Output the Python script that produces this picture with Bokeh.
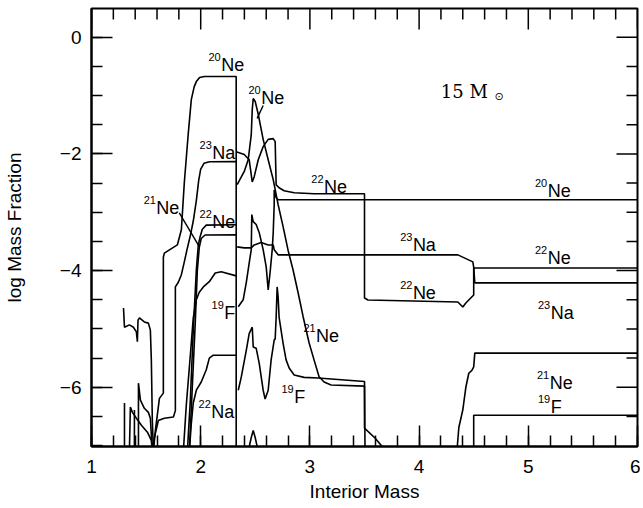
import math
from bokeh.plotting import figure
from bokeh.models import SingleIntervalTicker
from bokeh.core.properties import value
from bokeh.embed import file_html
from bokeh.resources import INLINE

# ---------------- data (interior mass, log mass fraction) ----------------
# left region (inside 2.33 Msun)
ne20_spiky_x = [1.293, 1.302, 1.347, 1.384, 1.411, 1.420, 1.426, 1.439, 1.484, 1.521, 1.539, 1.548, 1.557, 1.567]
ne20_spiky_y = [-4.64, -4.97, -4.93, -4.97, -5.05, -5.22, -4.85, -4.81, -4.88, -4.90, -5.02, -5.53, -6.57, -7.10]

ne20_core_x = [1.567, 1.585, 1.622, 1.658, 1.658, 1.667, 1.786, 1.823, 1.850, 1.887, 1.914, 1.940, 1.960, 1.990, 2.033, 2.325, 2.325]
ne20_core_y = [-7.10, -6.74, -6.19, -6.10, -3.77, -3.70, -3.56, -3.30, -2.49, -1.63, -1.07, -0.85, -0.76, -0.69, -0.672, -0.672, -7.10]

na23_core_x = [1.430, 1.430, 1.448, 1.484, 1.521, 1.539, 1.548, 1.557, 1.576, 1.612, 1.667, 1.750, 1.768, 1.768, 1.795, 1.823, 1.850, 1.877, 1.905, 1.932, 1.960, 1.982, 2.000, 2.030, 2.080, 2.325]
na23_core_y = [-7.10, -5.93, -6.22, -6.36, -6.43, -6.53, -6.82, -7.10, -6.86, -6.57, -6.53, -6.51, -6.40, -4.28, -4.20, -4.07, -3.85, -3.62, -3.40, -3.15, -2.80, -2.45, -2.26, -2.16, -2.135, -2.132]

ne22_core_x = [1.878, 1.905, 1.932, 1.960, 1.978, 1.996, 2.015, 2.051, 2.325]
ne22_core_y = [-7.10, -6.22, -5.02, -3.99, -3.56, -3.41, -3.29, -3.22, -3.215]

ne21_core_x = [1.896, 1.923, 1.950, 1.969, 1.987, 2.005, 2.040, 2.325]
ne21_core_y = [-7.10, -6.00, -4.90, -4.00, -3.60, -3.45, -3.39, -3.387]

f19_core_x = [1.841, 1.868, 1.905, 1.932, 1.960, 1.987, 2.024, 2.079, 2.133, 2.188, 2.325]
f19_core_y = [-7.10, -6.31, -5.45, -4.81, -4.50, -4.37, -4.28, -4.19, -4.04, -4.02, -4.09]

na22_core_x = [1.896, 1.914, 1.932, 1.960, 2.005, 2.051, 2.079, 2.115, 2.325]
na22_core_y = [-7.10, -6.62, -6.27, -6.05, -5.91, -5.70, -5.50, -5.45, -5.45]

spike1_x = [1.302, 1.302]
spike1_y = [-7.10, -6.27]
spike2_x = [1.347, 1.356, 1.375, 1.411, 1.457, 1.512, 1.548, 1.557]
spike2_y = [-7.10, -6.34, -6.43, -6.53, -6.65, -6.77, -6.91, -7.10]
spike3_x = [1.393, 1.393]
spike3_y = [-7.10, -6.39]

# shell region (outside 2.33 Msun)
ne20_shell_x = [2.344, 2.389, 2.417, 2.444, 2.463, 2.468, 2.481, 2.508, 2.536, 2.572, 2.600, 2.618, 2.636, 2.655, 2.664, 2.673, 2.673, 2.691, 2.709, 6.0]
ne20_shell_y = [-4.62, -4.50, -4.21, -3.87, -3.64, -3.04, -3.16, -3.21, -3.35, -3.64, -3.94, -4.33, -4.02, -3.64, -3.35, -2.87, -2.62, -2.75, -2.785, -2.785]

na23_shell_x = [2.334, 2.399, 2.463, 2.490, 2.554, 2.618, 2.664, 2.673, 2.709, 4.355, 4.492, 4.500, 4.510, 6.0]
na23_shell_y = [-3.593, -3.61, -3.61, -3.56, -3.52, -3.56, -3.56, -3.644, -3.73, -3.73, -3.85, -3.94, -4.211, -4.211]

ne22_shell_x = [2.325, 2.399, 2.444, 2.472, 2.490, 2.527, 2.572, 2.618, 2.664, 2.682, 2.691, 2.718, 2.764, 2.856, 3.038, 3.5, 3.5, 3.532, 4.355, 4.400, 4.428, 4.500, 4.500, 6.0]
ne22_shell_y = [-1.961, -2.01, -2.10, -2.48, -2.39, -2.10, -1.875, -1.75, -1.737, -1.789, -2.53, -2.58, -2.63, -2.665, -2.682, -2.682, -4.469, -4.503, -4.538, -4.624, -4.555, -4.417, -3.954, -3.954]

ne21_shell_x = [2.334, 2.399, 2.435, 2.463, 2.472, 2.481, 2.499, 2.527, 2.572, 2.618, 2.664, 2.709, 2.755, 2.800, 2.846, 2.892, 2.938, 2.993, 3.038, 3.084, 3.130, 3.194, 3.5, 3.5, 3.596, 3.70]
ne21_shell_y = [-2.528, -2.30, -2.10, -1.67, -1.24, -1.05, -1.10, -1.32, -1.75, -2.10, -2.44, -2.87, -3.25, -3.65, -3.99, -4.38, -4.79, -5.24, -5.53, -5.82, -5.91, -5.96, -5.98, -6.70, -6.87, -7.10]

f19_shell_x = [2.344, 2.371, 2.417, 2.444, 2.472, 2.481, 2.508, 2.536, 2.572, 2.590, 2.618, 2.645, 2.673, 2.682, 2.691, 2.700, 2.709, 2.718, 2.755, 2.782, 2.810, 2.856, 2.947, 3.075, 3.5, 3.505]
f19_shell_y = [-6.05, -5.83, -5.37, -5.08, -4.97, -5.31, -5.33, -5.59, -6.05, -6.20, -6.05, -5.53, -5.19, -5.17, -4.80, -4.28, -4.45, -4.80, -5.25, -5.53, -5.67, -5.79, -5.83, -5.84, -5.90, -7.10]

na22_shell_x = [2.435, 2.463, 2.481, 2.499, 2.527]
na22_shell_y = [-7.10, -6.86, -6.74, -6.86, -7.10]

# envelope region
ne21_env_x = [4.346, 4.364, 4.400, 4.428, 4.455, 4.483, 4.500, 4.510, 6.0]
ne21_env_y = [-7.10, -6.69, -6.39, -6.00, -5.76, -5.71, -5.65, -5.414, -5.414]
f19_env_x = [4.50, 4.50, 6.0]
f19_env_y = [-7.10, -6.479, -6.479]

curves = [
    (ne20_spiky_x, ne20_spiky_y), (ne20_core_x, ne20_core_y), (na23_core_x, na23_core_y),
    (ne22_core_x, ne22_core_y), (ne21_core_x, ne21_core_y), (f19_core_x, f19_core_y),
    (na22_core_x, na22_core_y), (spike1_x, spike1_y), (spike2_x, spike2_y), (spike3_x, spike3_y),
    (ne20_shell_x, ne20_shell_y), (na23_shell_x, na23_shell_y), (ne22_shell_x, ne22_shell_y),
    (ne21_shell_x, ne21_shell_y), (f19_shell_x, f19_shell_y), (na22_shell_x, na22_shell_y),
    (ne21_env_x, ne21_env_y), (f19_env_x, f19_env_y),
]

# isotope labels
lab_mass = ["20", "20", "23", "21", "22", "22", "23", "22", "20", "22", "23", "21", "19", "19", "22", "21", "19"]
lab_elem = ["Ne", "Ne", "Na", "Ne", "Ne", "Ne", "Na", "Ne", "Ne", "Ne", "Na", "Ne", "F", "F", "Na", "Ne", "F"]
lab_x = [2.188, 2.554, 2.106, 1.594, 2.106, 3.130, 3.943, 3.943, 5.177, 5.177, 5.205, 5.196, 5.205, 2.216, 2.097, 3.057, 2.856]
lab_y = [-0.483, -1.033, -1.977, -2.923, -3.163, -2.562, -3.559, -4.383, -2.631, -3.782, -4.727, -5.929, -6.342, -4.727, -6.428, -5.122, -6.170]

# leader lines from labels to curves
lead_x0 = [1.804, 2.572]
lead_y0 = [-3.01, -1.17]
lead_x1 = [1.987, 2.517]
lead_y1 = [-3.59, -1.39]

title_text = "15  M"
title_x = [4.199]
title_y = [-0.933]
sun_x = [4.690]

# axes / ticks
X_MIN, X_MAX = 1.0, 6.0
Y_MIN, Y_MAX = -7.015, 0.493
x_major_ticks = [1, 2, 3, 4, 5, 6]
x_minor_ticks = [1.2, 1.4, 1.6, 1.8, 2.2, 2.4, 2.6, 2.8, 3.2, 3.4, 3.6, 3.8,
                 4.2, 4.4, 4.6, 4.8, 5.2, 5.4, 5.6, 5.8]
y_major_ticks = [0, -2, -4, -6]
y_minor_ticks = [-0.5, -1, -1.5, -2.5, -3, -3.5, -4.5, -5, -5.5, -6.5]

# ---------------- figure ----------------
FONT = "Liberation Sans"
MAJ, MIN_ = 21, 11

p = figure(width=640, height=508, x_range=(X_MIN, X_MAX), y_range=(Y_MIN, Y_MAX),
           output_backend="svg", toolbar_location=None,
           min_border_left=90, min_border_right=3, min_border_top=8, min_border_bottom=62,
           x_axis_label="Interior Mass", y_axis_label="log Mass Fraction")
p.background_fill_color = "white"
p.border_fill_color = "white"
p.outline_line_color = "black"
p.outline_line_width = 2
p.grid.visible = False

p.xaxis.ticker = SingleIntervalTicker(interval=1, num_minor_ticks=5)
p.yaxis.ticker = SingleIntervalTicker(interval=2, num_minor_ticks=4)

for ax in list(p.xaxis) + list(p.yaxis):
    ax.major_tick_in = MAJ
    ax.major_tick_out = 0
    ax.minor_tick_in = MIN_
    ax.minor_tick_out = 0
    ax.major_tick_line_width = 1.5
    ax.minor_tick_line_width = 1.5
    ax.major_tick_line_color = "black"
    ax.minor_tick_line_color = "black"
    ax.axis_line_color = "black"
    ax.axis_line_width = 2
    ax.major_label_text_font = FONT
    ax.major_label_text_font_size = "19px"
    ax.major_label_text_color = "black"
    ax.axis_label_text_font = FONT
    ax.axis_label_text_font_size = "19px"
    ax.axis_label_text_font_style = "normal"
    ax.axis_label_text_color = "black"
p.xaxis.major_label_standoff = 13
p.xaxis.axis_label_standoff = 5
p.yaxis.major_label_standoff = 10
p.yaxis.axis_label_standoff = 32

# inward ticks on the top and right edges of the frame
p.ray(x=x_major_ticks, y=[Y_MAX] * len(x_major_ticks), length=MAJ, length_units="screen",
      angle=-math.pi / 2, line_color="black", line_width=1.5)
p.ray(x=x_minor_ticks, y=[Y_MAX] * len(x_minor_ticks), length=MIN_, length_units="screen",
      angle=-math.pi / 2, line_color="black", line_width=1.5)
p.ray(x=[X_MAX] * len(y_major_ticks), y=y_major_ticks, length=MAJ, length_units="screen",
      angle=math.pi, line_color="black", line_width=1.5)
p.ray(x=[X_MAX] * len(y_minor_ticks), y=y_minor_ticks, length=MIN_, length_units="screen",
      angle=math.pi, line_color="black", line_width=1.5)

for cx, cy in curves:
    p.line(cx, cy, line_color="black", line_width=1.6)

p.segment(lead_x0, lead_y0, lead_x1, lead_y1, line_color="black", line_width=1.4)

p.text(lab_x, lab_y, text=lab_elem, text_font=value(FONT), text_font_size="18px",
       text_color="black", text_align="left", text_baseline="alphabetic")
p.text(lab_x, lab_y, text=lab_mass, text_font=value(FONT), text_font_size="11px",
       text_color="black", text_align="right", text_baseline="alphabetic", y_offset=-8, x_offset=-0.5)

p.text(title_x, title_y, text=[title_text], text_font=value("DejaVu Serif"), text_font_size="18px",
       text_color="black", text_align="left", text_baseline="alphabetic")
p.text(sun_x, title_y, text=["\u2299"], text_font=value("DejaVu Sans"), text_font_size="11px",
       text_color="black", text_align="left", text_baseline="alphabetic", y_offset=5)

open("out.html", "w").write(file_html(p, INLINE))
